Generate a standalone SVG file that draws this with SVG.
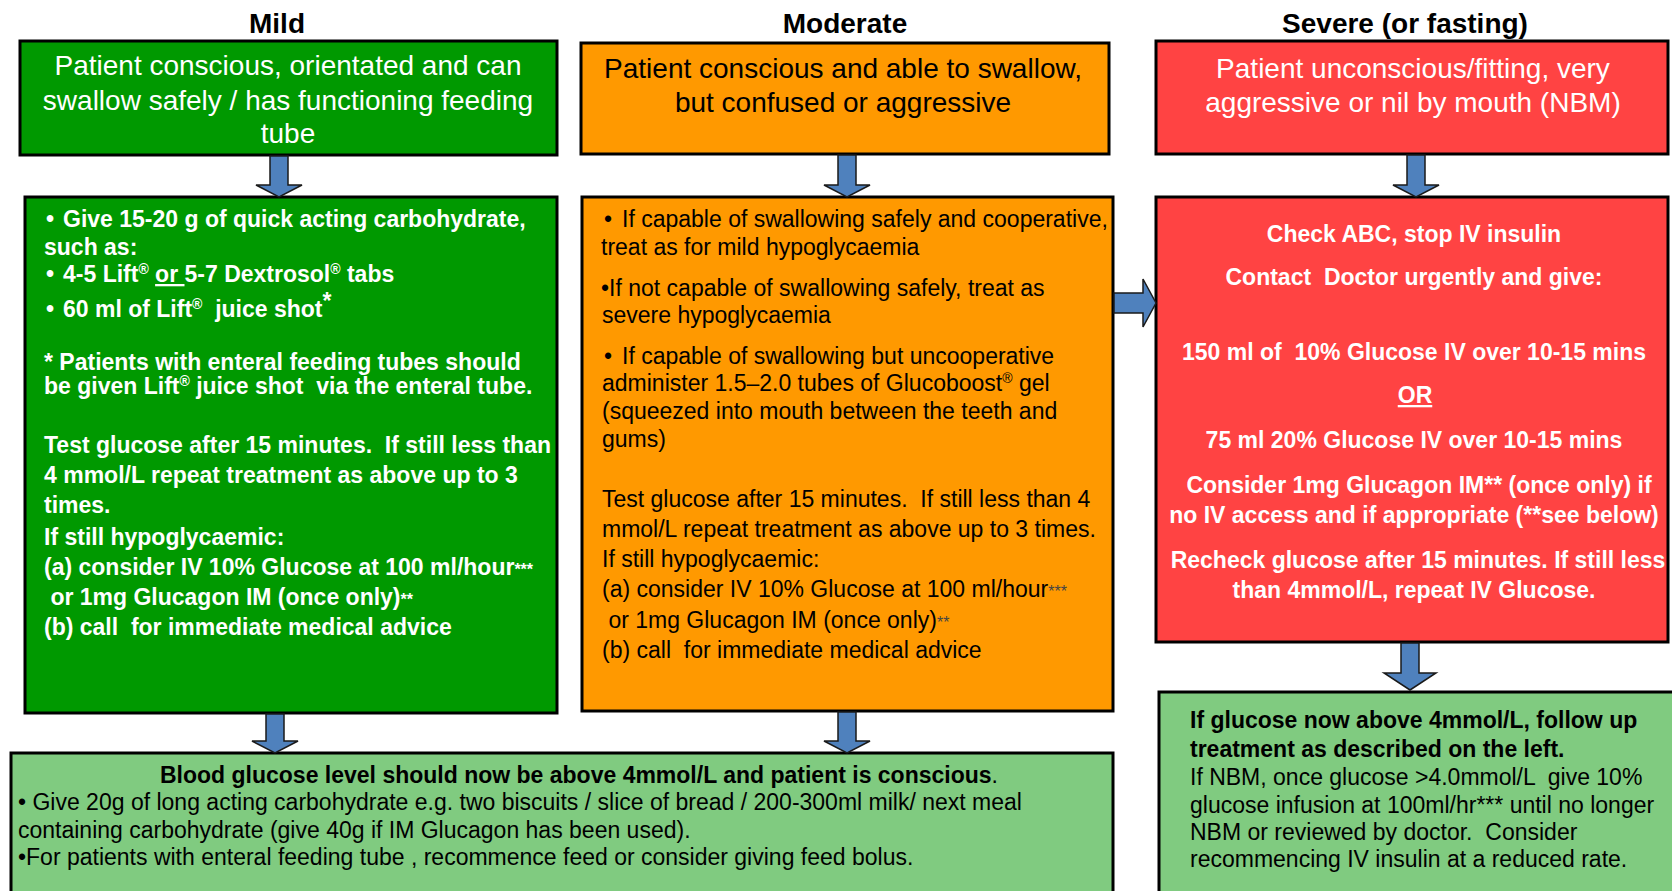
<svg xmlns="http://www.w3.org/2000/svg" width="1672" height="891" viewBox="0 0 1672 891">
<style>
text{font-family:"Liberation Sans",Arial,sans-serif;white-space:pre}
.title{font-size:28px;font-weight:bold;fill:#000;text-anchor:middle}
.head{font-size:28px;text-anchor:middle}
.w{fill:#fff}
.k{fill:#000}
.b{font-weight:bold}
.body{font-size:23px}
.c{text-anchor:middle}
.box{stroke:#000;stroke-width:3}
.arrow{fill:#4F81BD;stroke:#1a1a1a;stroke-width:1.5}
</style>
<rect width="1672" height="891" fill="#fff"/>

<g id="titles">
<text class="title" x="277" y="33">Mild</text>
<text class="title" x="845" y="33">Moderate</text>
<text class="title" x="1405" y="33">Severe (or fasting)</text>
</g>

<g id="mild-condition">
<rect class="box" x="20" y="41" width="537" height="114" fill="#009900"/>
<text class="head w" x="288" y="75">Patient conscious, orientated and can</text>
<text class="head w" x="288" y="110">swallow safely / has functioning feeding</text>
<text class="head w" x="288" y="143">tube</text>
</g>

<g id="moderate-condition">
<rect class="box" x="581" y="43" width="528" height="111" fill="#FF9900"/>
<text class="head k" x="843" y="78">Patient conscious and able to swallow,</text>
<text class="head k" x="843" y="112">but confused or aggressive</text>
</g>

<g id="severe-condition">
<rect class="box" x="1156" y="41" width="512" height="113" fill="#FF4343"/>
<text class="head w" x="1413" y="78">Patient unconscious/fitting, very</text>
<text class="head w" x="1413" y="112">aggressive or nil by mouth (NBM)</text>
</g>

<g id="mild-treatment">
<rect class="box" x="25" y="197" width="532" height="516" fill="#009900"/>
<g class="body b w">
<text x="46" y="227">•</text><text x="63" y="227">Give 15-20 g of quick acting carbohydrate,</text>
<text x="44" y="255">such as:</text>
<text x="46" y="282">•</text><text x="63" y="282">4-5 Lift<tspan font-size="14" dy="-8">®</tspan><tspan dy="8"> </tspan><tspan text-decoration="underline">or </tspan>5-7 Dextrosol<tspan font-size="14" dy="-8">®</tspan><tspan dy="8"> tabs</tspan></text>
<text x="46" y="317">•</text><text x="63" y="317">60 ml of Lift<tspan font-size="14" dy="-8">®</tspan><tspan dy="8">  juice shot</tspan><tspan dy="-8">*</tspan></text>
<text x="44" y="370">* Patients with enteral feeding tubes should</text>
<text x="44" y="394">be given Lift<tspan font-size="14" dy="-8">®</tspan><tspan dy="8"> juice shot  via the enteral tube.</tspan></text>
<text x="44" y="453">Test glucose after 15 minutes.  If still less than</text>
<text x="44" y="483">4 mmol/L repeat treatment as above up to 3</text>
<text x="44" y="513">times.</text>
<text x="44" y="545">If still hypoglycaemic:</text>
<text x="44" y="575">(a) consider IV 10% Glucose at 100 ml/hour<tspan font-size="16">***</tspan></text>
<text x="44" y="605"> or 1mg Glucagon IM (once only)<tspan font-size="16">**</tspan></text>
<text x="44" y="635">(b) call  for immediate medical advice</text>
</g>
</g>

<g id="moderate-treatment">
<rect class="box" x="582" y="197" width="531" height="514" fill="#FF9900"/>
<g class="body k">
<text x="604" y="227">•</text><text x="622" y="227">If capable of swallowing safely and cooperative,</text>
<text x="601" y="255">treat as for mild hypoglycaemia</text>
<text x="601" y="296">•If not capable of swallowing safely, treat as</text>
<text x="602" y="323">severe hypoglycaemia</text>
<text x="604" y="364">•</text><text x="622" y="364">If capable of swallowing but uncooperative</text>
<text x="602" y="391">administer 1.5–2.0 tubes of Glucoboost<tspan font-size="14" dy="-8">®</tspan><tspan dy="8"> gel</tspan></text>
<text x="602" y="419">(squeezed into mouth between the teeth and</text>
<text x="602" y="447">gums)</text>
<text x="602" y="507">Test glucose after 15 minutes.  If still less than 4</text>
<text x="602" y="537">mmol/L repeat treatment as above up to 3 times.</text>
<text x="602" y="567">If still hypoglycaemic:</text>
<text x="602" y="597">(a) consider IV 10% Glucose at 100 ml/hour<tspan font-size="16" fill="#444">***</tspan></text>
<text x="602" y="628"> or 1mg Glucagon IM (once only)<tspan font-size="16" fill="#444">**</tspan></text>
<text x="602" y="658">(b) call  for immediate medical advice</text>
</g>
</g>

<g id="severe-treatment">
<rect class="box" x="1156" y="197" width="512" height="445" fill="#FF4343"/>
<g class="body b w c">
<text x="1414" y="242">Check ABC, stop IV insulin</text>
<text x="1414" y="285">Contact  Doctor urgently and give:</text>
<text x="1414" y="360">150 ml of  10% Glucose IV over 10-15 mins</text>
<text x="1415" y="403" text-decoration="underline">OR</text>
<text x="1414" y="448">75 ml 20% Glucose IV over 10-15 mins</text>
<text x="1419" y="493">Consider 1mg Glucagon IM** (once only) if</text>
<text x="1414" y="523">no IV access and if appropriate (**see below)</text>
<text x="1418" y="568">Recheck glucose after 15 minutes. If still less</text>
<text x="1414" y="598">than 4mmol/L, repeat IV Glucose.</text>
</g>
</g>

<g id="follow-up">
<rect class="box" x="11" y="753" width="1102" height="150" fill="#80CB80"/>
<g class="body k">
<text x="160" y="783"><tspan class="b">Blood glucose level should now be above 4mmol/L and patient is conscious</tspan>.</text>
<text x="18" y="810">• Give 20g of long acting carbohydrate e.g. two biscuits / slice of bread / 200-300ml milk/ next meal</text>
<text x="18" y="838">containing carbohydrate (give 40g if IM Glucagon has been used).</text>
<text x="18" y="865">•For patients with enteral feeding tube , recommence feed or consider giving feed bolus.</text>
</g>
</g>

<g id="severe-follow-up">
<rect class="box" x="1159" y="692" width="520" height="210" fill="#80CB80"/>
<g class="body k">
<text class="b" x="1190" y="728">If glucose now above 4mmol/L, follow up</text>
<text class="b" x="1190" y="757">treatment as described on the left.</text>
<text x="1190" y="785">If NBM, once glucose &gt;4.0mmol/L  give 10%</text>
<text x="1190" y="813">glucose infusion at 100ml/hr*** until no longer</text>
<text x="1190" y="840">NBM or reviewed by doctor.  Consider</text>
<text x="1190" y="867">recommencing IV insulin at a reduced rate.</text>
</g>
</g>

<g id="connectors">
<polygon class="arrow" points="270,156 288,156 288,185 302,185 279,197 256,185 270,185"/>
<polygon class="arrow" points="838,155 856,155 856,185 870,185 847,197 824,185 838,185"/>
<polygon class="arrow" points="1407,155 1425,155 1425,185 1439,185 1416,197 1393,185 1407,185"/>
<polygon class="arrow" points="266,714 284,714 284,741 298,741 275,753 252,741 266,741"/>
<polygon class="arrow" points="838,712 856,712 856,741 870,741 847,753 824,741 838,741"/>
<polygon class="arrow" points="1401,643 1419,643 1419,673 1436,673 1410,690 1384,673 1401,673"/>
<polygon class="arrow" points="1114,293 1143,293 1143,279 1156,303 1143,327 1143,313 1114,313"/>
</g>
</svg>
